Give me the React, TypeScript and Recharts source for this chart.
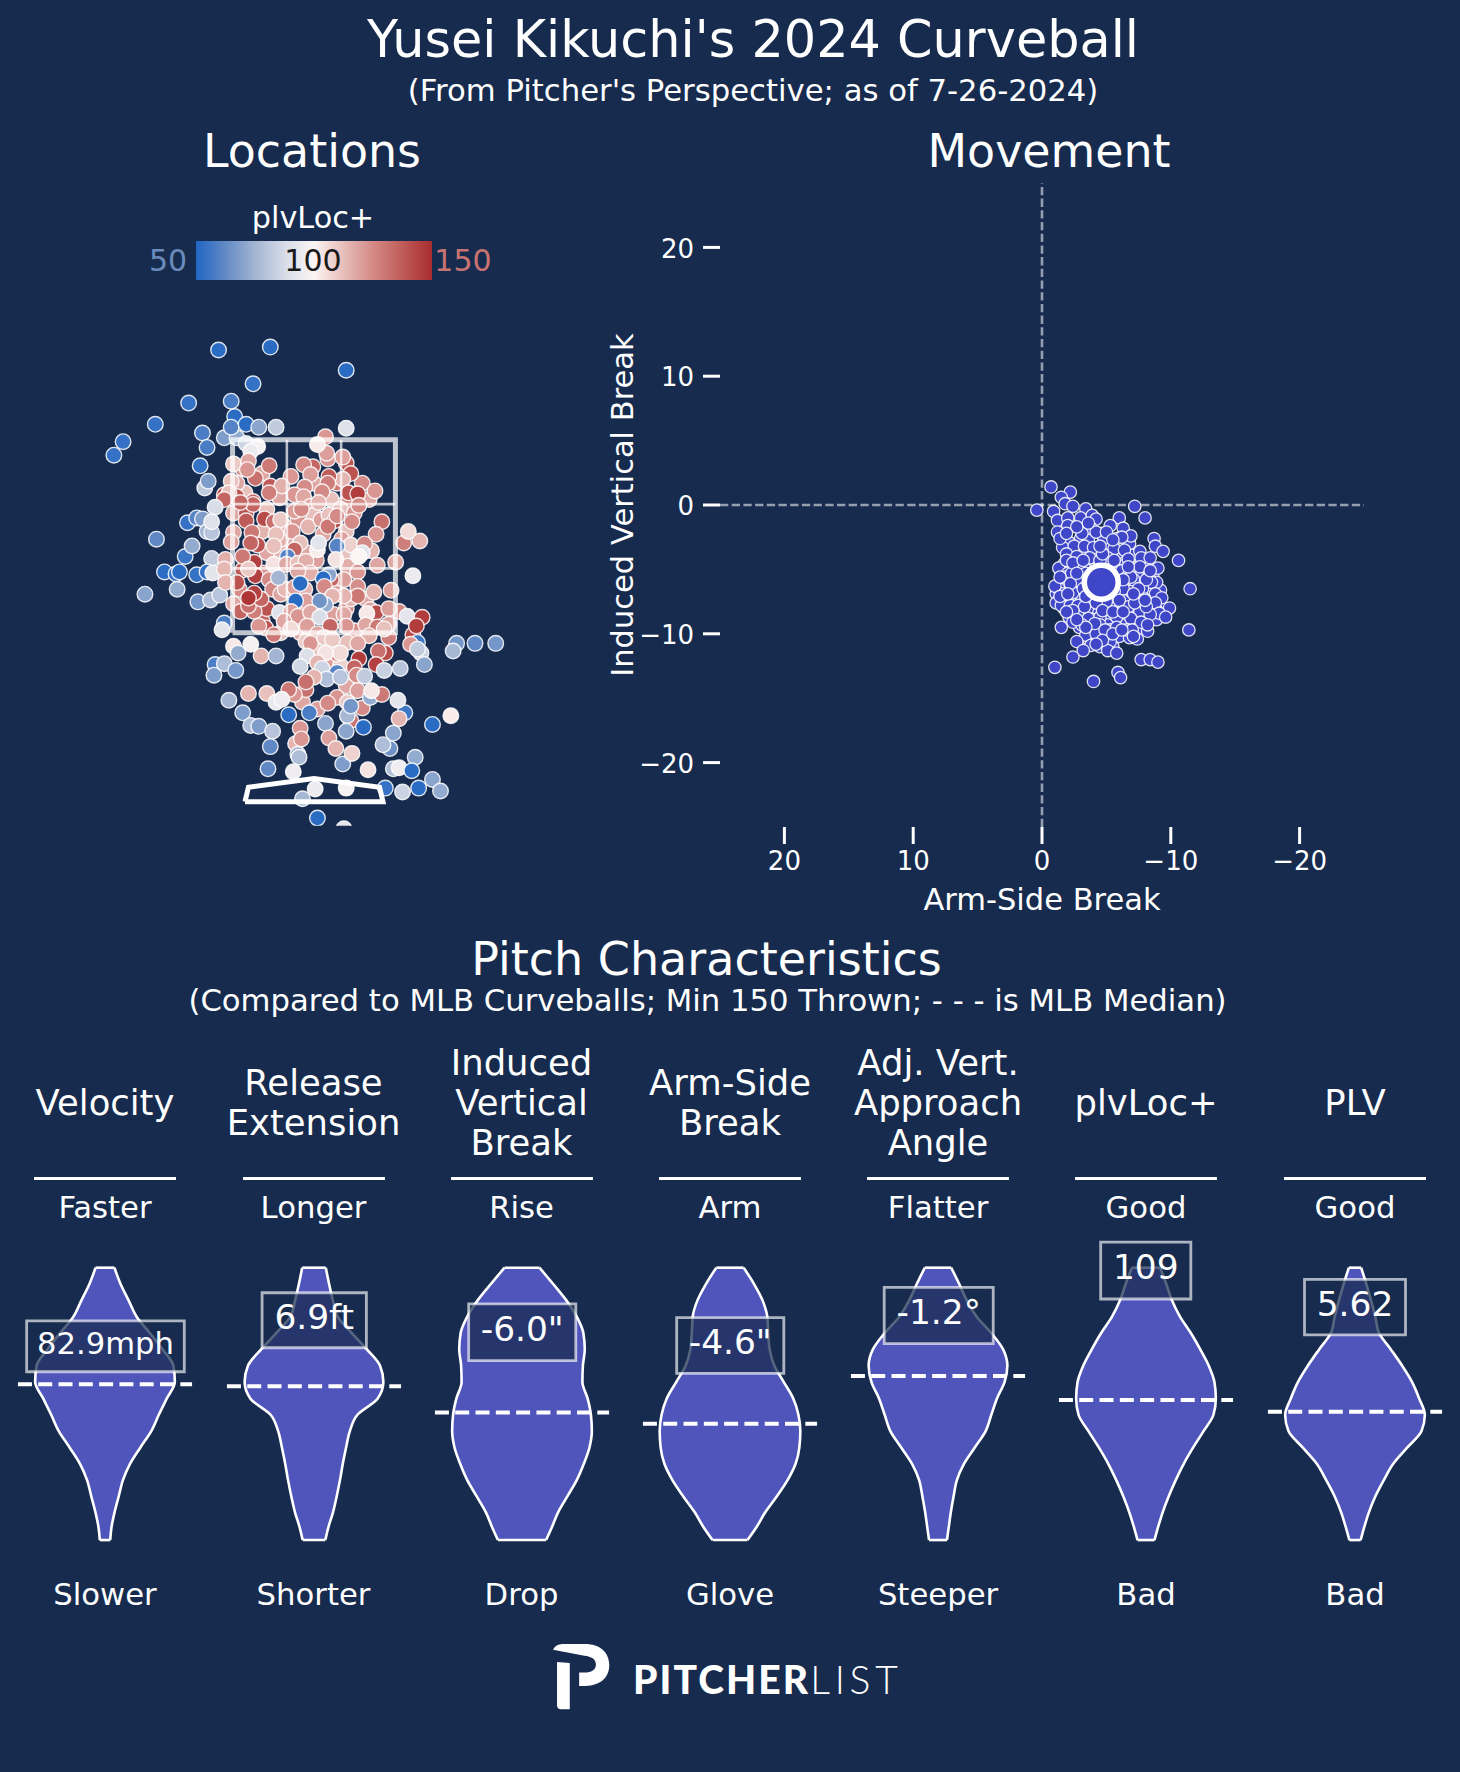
import {
  Area,
  ComposedChart,
  ReferenceArea,
  ReferenceLine,
  Scatter,
  ScatterChart,
  XAxis,
  YAxis,
} from "recharts";

const BG = "#162B4E";
const FONT = "'DejaVu Sans', sans-serif";
const VIOLIN = "#4F55BB";

// pitches buried under the rest of the cloud, drawn first
const locationPitchesUnder: number[][] = [
  [-0.62, 3.2, 125], [-0.45, 3.15, 118], [-0.2, 3.12, 122], [0, 3.05, 118], [0.2, 3.05, 130], [0.42, 3.05, 125],
  [-0.6, 2.95, 112], [-0.3, 2.9, 118], [0.15, 2.88, 112], [0.28, 2.85, 125], [0.48, 2.88, 118], [-0.45, 2.55, 115],
  [-0.2, 2.42, 118], [0.08, 2.52, 118], [0.28, 2.55, 112], [0.5, 2.35, 115], [-0.62, 2.15, 138], [-0.45, 2.12, 122],
  [-0.3, 2.35, 115], [0.02, 2.25, 120], [0.25, 2.3, 112], [0.55, 2.2, 118], [-0.65, 1.95, 125], [-0.45, 1.62, 135],
  [-0.08, 1.95, 115], [0.28, 1.75, 125], [0.45, 1.85, 118], [0.65, 1.45, 128], [-0.12, 1.5, 118], [0.35, 1.52, 125],
  [0, 1.33, 112], [0.12, 1.2, 120], [0.28, 0.95, 118], [0.42, 0.72, 125], [-0.1, 0.78, 118],
];

// [plate_x ft, plate_z ft, plvLoc+]
const locationPitches: number[][] = [
  [-0.83, 4.43, 52], [-0.38, 4.46, 52], [0.28, 4.22, 52], [-0.53, 4.08, 54], [-1.09, 3.88, 54], [-0.69, 3.74, 52],
  [-0.72, 3.9, 58], [-1.38, 3.66, 54], [-1.66, 3.48, 54], [-1.74, 3.34, 54], [-0.97, 3.57, 58], [-0.93, 3.42, 58],
  [-0.99, 3.23, 54], [-0.95, 3.0, 82], [-0.92, 3.07, 68], [-0.78, 3.52, 68], [-0.67, 3.52, 72], [-0.72, 3.63, 60],
  [-0.59, 3.66, 52], [-0.48, 3.63, 70], [-0.33, 3.63, 82], [0.28, 3.62, 90], [-0.59, 3.46, 85], [-0.49, 3.43, 98],
  [-0.55, 3.38, 95], [0.1, 3.53, 122], [0.12, 3.3, 122], [0.11, 3.36, 120], [0.03, 3.45, 102], [0.28, 3.26, 140],
  [0.25, 3.32, 120], [0.32, 3.15, 140], [0.25, 3.09, 115], [-0.7, 3.25, 110], [-0.57, 3.28, 118], [-0.51, 3.1, 132],
  [-0.58, 3.19, 122], [-0.39, 3.23, 130], [-0.01, 3.22, 135], [-0.09, 3.24, 125], [-0.03, 3.14, 120], [0.13, 3.12, 138],
  [0.12, 3.05, 128], [-0.67, 3.05, 118], [-0.72, 3.07, 112], [-0.38, 3.02, 138], [-0.28, 3.02, 116], [-0.39, 2.95, 128],
  [-0.08, 3.01, 125], [-0.17, 2.93, 122], [0.07, 2.96, 125], [0.3, 2.95, 140], [0.38, 2.94, 146], [0.53, 2.97, 122],
  [-0.78, 2.93, 140], [-0.67, 2.91, 140], [-0.74, 2.95, 112], [-0.53, 2.86, 135], [-0.09, 2.91, 118],
  [-0.78, 2.88, 135], [-0.86, 2.8, 88], [-1.1, 2.64, 54], [-1.02, 2.69, 60], [-0.97, 2.68, 68], [-0.93, 2.55, 75],
  [-0.89, 2.54, 80], [-0.89, 2.65, 90], [-1.37, 2.47, 62], [-1.12, 2.29, 55], [-1.06, 2.4, 72], [-0.89, 2.27, 82],
  [-1.3, 2.13, 52], [-1.2, 2.11, 55], [-1.17, 2.13, 52], [-1.02, 2.1, 54], [-0.93, 2.13, 54], [-0.88, 2.12, 92],
  [-1.19, 1.95, 72], [-1.47, 1.9, 70], [-1.01, 1.82, 66], [-0.9, 1.84, 78], [-0.82, 1.89, 80], [-0.78, 1.6, 58],
  [-0.8, 1.53, 92], [-0.7, 1.36, 103], [-0.55, 1.38, 98], [-0.66, 1.29, 72], [-0.46, 1.26, 115], [-0.33, 1.26, 75],
  [-0.86, 1.17, 58], [-0.78, 1.18, 78], [-0.68, 1.11, 66], [-0.87, 1.06, 68],
  [-0.03, 2.81, 118], [0.23, 2.78, 112], [0, 2.72, 112], [-0.41, 2.78, 112], [-0.14, 2.67, 122], [-0.26, 2.6, 115],
  [-0.06, 2.33, 118], [0.29, 2.19, 116], [0.26, 2.05, 120], [0.49, 1.74, 120], [-0.29, 1.5, 112], [-0.12, 1.74, 125],
  [0.17, 1.69, 120], [0.29, 1.4, 112], [0.23, 1.16, 108], [-0.29, 2.47, 116], [-0.41, 2.33, 118], [0.12, 1.5, 112],
  [-0.7, 2.74, 118], [-0.59, 2.74, 140], [-0.53, 2.83, 135], [-0.64, 2.85, 135], [-0.43, 2.68, 142], [-0.59, 2.66, 138],
  [-0.35, 2.65, 132], [-0.7, 2.54, 118], [-0.54, 2.54, 130], [-0.72, 2.44, 120], [-0.49, 2.41, 140], [-0.55, 2.43, 135],
  [-0.52, 2.23, 145], [-0.62, 2.29, 130], [-0.51, 2.09, 145], [-0.57, 2.16, 110], [-0.67, 2.02, 140], [-0.77, 2.26, 116],
  [-0.78, 2.16, 114], [-0.77, 2.02, 115], [-0.33, 2.52, 112], [-0.35, 2.4, 112], [-0.29, 2.67, 110], [-0.19, 2.55, 122],
  [-0.12, 2.43, 112], [-0.05, 2.6, 115], [0.06, 2.67, 120], [-0.17, 2.76, 120], [-0.11, 2.78, 125], [0.04, 2.85, 115],
  [0.13, 2.72, 112], [0.18, 2.66, 145], [0.12, 2.6, 130], [0.2, 2.71, 125], [0.35, 2.74, 122], [0.33, 2.65, 125],
  [0.39, 2.82, 125], [0.59, 2.65, 132], [0.54, 2.52, 122], [0.24, 2.47, 120], [0.32, 2.41, 108], [0.44, 2.42, 125],
  [0.2, 2.4, 60], [0.03, 2.36, 102], [0.04, 2.43, 92], [0.19, 2.26, 104], [0.42, 2.33, 92], [0.39, 2.29, 100],
  [0.78, 2.43, 128], [0.82, 2.55, 106], [0.92, 2.45, 115], [0.71, 2.23, 118], [0.86, 2.09, 95], [-0.17, 2.36, 135],
  [-0.23, 2.29, 60], [-0.35, 2.21, 104], [-0.24, 2.21, 118], [-0.14, 2.22, 112], [-0.07, 2.24, 116], [-0.03, 2.12, 116],
  [-0.14, 2.14, 118], [0.15, 2.05, 135], [0.13, 2.1, 70], [0.08, 2.06, 52], [0.09, 1.98, 125], [-0.39, 2.05, 125],
  [-0.36, 1.95, 125], [-0.29, 1.9, 118], [-0.25, 1.95, 114], [-0.17, 1.97, 120], [-0.12, 2.01, 52], [-0.31, 2.07, 75],
  [0.2, 1.91, 118], [0.38, 2.13, 122], [0.38, 1.98, 124], [0.32, 1.85, 115], [0.52, 1.92, 115], [0.38, 1.88, 130],
  [0.67, 1.94, 120], [0.26, 1.88, 115], [0.16, 1.88, 115], [-0.07, 1.83, 120], [0.1, 1.79, 72], [0.05, 1.83, 65],
  [-0.16, 1.83, 52], [-0.7, 1.8, 118], [-0.64, 1.72, 135], [-0.41, 1.75, 140], [-0.52, 1.72, 128], [-0.57, 1.78, 132],
  [-0.46, 1.85, 135], [-0.52, 1.91, 145], [-0.57, 1.86, 148], [-0.3, 1.71, 90], [-0.2, 1.72, 120], [-0.14, 1.67, 122],
  [-0.26, 1.62, 118], [-0.03, 1.71, 118], [0.05, 1.66, 88], [0.26, 1.69, 118], [0.54, 1.71, 142], [0.46, 1.7, 103],
  [0.74, 1.72, 125], [0.65, 1.75, 120], [0.81, 1.67, 92], [0.94, 1.66, 146], [0.86, 1.48, 142], [0.89, 1.57, 146],
  [0.9, 1.4, 56], [0.84, 1.38, 122], [0.93, 1.29, 84], [0.9, 1.33, 82], [0.96, 1.17, 70], [-0.42, 1.55, 140],
  [-0.48, 1.57, 122], [-0.35, 1.48, 130], [-0.2, 1.54, 106], [0.14, 1.57, 135], [-0.06, 1.57, 120], [0.28, 1.57, 122],
  [0.45, 1.58, 118], [0.65, 1.59, 118], [0.55, 1.56, 130], [0.61, 1.54, 112], [0.03, 1.49, 118], [0.48, 1.47, 116],
  [0.38, 1.39, 118], [-0.07, 1.41, 110], [-0.03, 1.39, 122], [0.09, 1.45, 110], [0.16, 1.43, 110], [0.2, 1.28, 125],
  [0.23, 1.29, 106], [0.1, 1.29, 104], [0.62, 1.29, 142], [0.56, 1.31, 132], [0.54, 1.17, 145], [0.39, 1.23, 146],
  [0.35, 1.14, 135], [-0.06, 1.26, 90], [0.03, 1.19, 115], [-0.12, 1.15, 86], [0.07, 1.13, 85], [0.2, 1.09, 60],
  [0.37, 1.06, 125], [0.44, 1.05, 82], [0.61, 1.11, 84], [0.75, 1.13, 80], [0.11, 1.02, 78], [0.23, 1.04, 80],
  [0, 1.04, 115], [-0.07, 0.91, 132], [-0.07, 0.99, 132], [-0.17, 0.86, 122], [-0.22, 0.91, 130], [-0.57, 0.87, 115],
  [-0.41, 0.87, 112], [-0.33, 0.78, 94], [-0.28, 0.81, 96], [-0.74, 0.8, 75], [0.38, 0.9, 120], [0.49, 0.83, 72],
  [0.59, 0.86, 130], [0.5, 0.9, 103], [0.79, 0.67, 56], [0.73, 0.8, 92], [0.74, 0.61, 115], [0.03, 0.71, 120],
  [0.2, 0.83, 122], [0.12, 0.77, 125], [0.32, 0.59, 132], [0.29, 0.64, 76], [0.29, 0.78, 110], [0.32, 0.74, 66],
  [0.43, 0.52, 52], [0.28, 0.48, 70], [-0.04, 0.67, 58], [-0.22, 0.65, 52], [-0.62, 0.67, 68], [-0.55, 0.54, 78],
  [-0.48, 0.53, 68], [-0.36, 0.48, 80], [-0.38, 0.32, 62], [-0.16, 0.35, 115], [-0.12, 0.51, 122], [-0.11, 0.4, 122],
  [0.1, 0.56, 70], [0.13, 0.41, 120], [0.19, 0.3, 115], [-0.14, 0.24, 75], [-0.13, 0.21, 78], [0.25, 0.14, 68],
  [0.33, 0.25, 108], [0.66, 0.3, 65], [0.69, 0.46, 70], [0.6, 0.34, 78], [1.03, 0.55, 52], [1.19, 0.64, 102],
  [0.88, 0.21, 72], [-0.4, 0.09, 62], [-0.18, 0.06, 96], [0.47, 0.08, 104], [0.69, 0.09, 78], [0.74, 0.1, 96],
  [0.85, 0.07, 52], [1.03, -0.02, 70], [0.62, -0.11, 54], [0.91, -0.11, 52], [0.77, -0.15, 85], [1.1, -0.14, 72],
  [0.01, -0.12, 95], [0.28, -0.11, 98], [-0.1, -0.22, 76], [0.03, -0.42, 52], [0.26, -0.53, 92],
  [1.24, 1.39, 66], [1.21, 1.31, 76], [1.4, 1.39, 62], [1.58, 1.39, 66],
];

const zoneOutline = [[-0.708, 1.5], [0.708, 1.5], [0.708, 3.5], [-0.708, 3.5], [-0.708, 1.5]];
const zoneInnerLines = [
  [[-0.236, 1.5], [-0.236, 3.5]],
  [[0.236, 1.5], [0.236, 3.5]],
  [[-0.708, 2.167], [0.708, 2.167]],
  [[-0.708, 2.833], [0.708, 2.833]],
];
const homePlate = [[-0.6, -0.25], [0.6, -0.25], [0.57, -0.1], [0, -0.01], [-0.57, -0.1], [-0.6, -0.25]];

// [arm-side break in, induced vertical break in]
const movementPitchesUnder: number[][] = [
  [-3.0, -2.6], [-3.6, -2.7], [-2.1, -2.9], [-1.6, -3.3], [-4.6, -2.2], [-5.2, -3.0], [-6.8, -3.0], [-2.6, -3.8],
  [-3.2, -3.7], [-4.4, -3.7], [-5.9, -3.7], [-7.0, -3.9], [-1.7, -4.6], [-3.6, -4.7], [-4.2, -4.6], [-5.0, -4.7],
  [-5.7, -4.9], [-6.5, -4.6], [-7.9, -4.6], [-2.6, -4.9], [-1.5, -5.3], [-2.2, -5.6], [-3.1, -5.6], [-3.8, -5.0],
  [-5.8, -5.3], [-7.0, -5.2], [-7.9, -5.5], [-8.6, -5.5], [-1.7, -6.2], [-2.5, -6.4], [-3.6, -6.0], [-6.6, -6.2],
  [-7.2, -6.3], [-8.2, -6.3], [-9.0, -6.5], [-1.1, -6.9], [-2.9, -6.8], [-3.9, -6.9], [-4.6, -7.0], [-5.2, -7.0],
  [-6.0, -6.5], [-6.5, -7.1], [-7.6, -7.0], [-8.4, -6.9], [-9.2, -6.6], [-1.3, -7.4], [-1.9, -7.3], [-2.5, -7.3],
  [-3.1, -7.3], [-4.2, -7.2], [-6.6, -7.4], [-7.4, -7.2], [-8.4, -7.5], [-9.2, -7.8], [-1.7, -8.0], [-3.0, -8.2],
  [-3.7, -8.3], [-4.4, -8.4], [-5.0, -8.0], [-6.0, -7.9], [-7.0, -8.2], [-8.0, -8.1], [-8.9, -8.2], [-2.1, -8.7],
  [-3.3, -8.9], [-4.0, -8.9], [-5.2, -8.8], [-6.4, -8.9], [-7.3, -8.7], [-8.0, -8.8], [-8.9, -8.9], [-2.9, -9.5],
  [-3.8, -9.6], [-5.1, -9.3], [-6.2, -9.3], [-7.6, -9.6], [-4.4, -10.0], [-5.0, -10.3], [-6.0, -10.2], [-6.8, -10.3],
  [-3.6, -10.4], [-4.5, -11.0], [-5.5, -11.0], [-4.0, -5.0], [-4.9, -5.0], [-3.3, -4.9],
];
const movementPitches: number[][] = [
  [-0.7, 1.4], [-2.2, 1.0], [-1.5, 0.6], [-1.8, 0.1], [-2.4, -0.1], [0.4, -0.4], [-0.9, -0.5], [-3.4, -0.3],
  [-7.2, -0.1], [-8.0, -1.0], [-1.2, -1.2], [-2.0, -1.0], [-2.0, -1.6], [-3.0, -1.0], [-3.9, -0.8], [-4.2, -1.1],
  [-6.0, -1.0], [-5.3, -1.6], [-3.8, -1.8], [-6.3, -1.8], [-3.1, -2.2], [-1.2, -2.1], [-6.9, -2.4], [-8.7, -2.6],
  [-1.4, -2.6], [-4.8, -2.6], [-5.8, -2.6], [-6.2, -2.5], [-2.5, -3.2], [-3.3, -3.2], [-4.0, -3.3], [-1.9, -3.8],
  [-5.6, -3.4], [-6.4, -3.5], [-7.6, -3.6], [-8.8, -3.2], [-9.4, -3.6], [-10.6, -4.3], [-3.7, -4.1], [-5.1, -4.1],
  [-6.7, -4.2], [-7.7, -4.1], [-8.4, -4.1], [-2.9, -4.7], [-1.3, -4.9], [-2.0, -5.3], [-6.2, -5.1], [-7.2, -4.9],
  [-9.0, -4.9], [-8.1, -5.2], [-1.8, -5.6], [-2.9, -5.9], [-7.5, -5.6], [-8.9, -6.0], [-6.6, -5.6], [-8.5, -6.0],
  [-7.8, -6.5], [-11.5, -6.5], [-1.3, -6.5], [-1.6, -6.9], [-2.4, -6.8], [-6.9, -6.7], [-6.3, -6.5], [-8.8, -6.9],
  [-8.0, -7.3], [-9.3, -7.2], [-1.1, -7.6], [-1.5, -7.8], [-2.2, -7.8], [-2.8, -7.8], [-3.6, -7.3], [-5.5, -7.7],
  [-6.7, -7.9], [-8.8, -7.6], [-9.9, -8.0], [-9.1, -8.4], [-9.6, -8.7], [-7.6, -8.3], [-8.4, -8.5], [-2.9, -8.7],
  [-3.6, -8.8], [-4.5, -8.7], [-5.8, -8.7], [-6.9, -8.8], [-7.7, -9.1], [-2.4, -9.1], [-1.5, -9.5], [-3.1, -9.3],
  [-4.5, -9.3], [-5.3, -9.7], [-6.6, -9.7], [-7.0, -9.7], [-8.2, -9.8], [-8.2, -9.3], [-11.4, -9.7], [-3.4, -10.1],
  [-4.2, -10.0], [-5.3, -10.6], [-7.4, -10.4], [-2.7, -10.6], [-3.8, -10.9], [-3.2, -11.3], [-5.1, -11.3], [-5.8, -11.5],
  [-2.4, -11.8], [-1.0, -12.6], [-7.7, -12.0], [-8.4, -12.0], [-9.0, -12.2], [-5.9, -13.0], [-6.1, -13.4], [-4.0, -13.7],
  [-2.7, -4.0], [-4.5, -4.3], [-5.6, -4.3], [-2.3, -5.3], [-3.4, -5.3], [-4.7, -3.8], [-7.1, -5.8], [-8.1, -5.8],
  [-2.2, -6.1], [-3.2, -6.5], [-1.0, -6.3], [-1.9, -4.3], [-2.4, -4.5], [-1.4, -5.6], [-2.7, -5.3], [-6.9, -5.6],
  [-7.5, -6.5], [-5.6, -6.7], [-6.0, -7.4], [-5.0, -7.5], [-4.2, -7.6], [-3.3, -7.9], [-2.4, -8.2], [-1.9, -8.3],
  [-4.7, -8.2], [-5.5, -8.3], [-6.3, -8.3], [-7.2, -7.6], [-8.1, -7.9], [-4.1, -9.2], [-4.9, -9.7], [-5.8, -9.5],
  [-3.4, -9.5], [-4.7, -10.5], [-4.2, -10.8], [-5.5, -10.0], [-2.7, -8.9], [-6.2, -9.7], [-7.1, -10.2], [-4.5, -3.2],
  [-2.7, -1.7], [-4.2, -2.1], [-3.6, -1.4], [-5.0, -2.1], [-1.9, -2.2], [-5.5, -2.7], [-7.6, -4.8], [-8.4, -5.1],
  [-6.7, -4.8], [-8.0, -7.4], [-3.2, -4.3], [-1.4, -7.1], [-3.4, -7.1], [-7.1, -6.9], [-6.3, -5.8], [-2.0, -6.9],
];
const movementMean = [{ x: -4.6, y: -6.0 }];
const movementTicks = [-20, -10, 0, 10, 20];

const plvStops = [50, 62, 75, 88, 100, 112, 125, 138, 150];
const plvColors = ["#1F66C4", "#6088C4", "#A3B5D3", "#D8DDE8", "#FBF5F4", "#E8C0BC", "#D48A86", "#BE5A58", "#A92D2E"];

// rungs of every violin, as a percent of that metric's plotted range
const violinLevels = [0, 5, 10, 16, 22, 28, 34, 40, 46, 52, 58, 64, 70, 76, 82, 88, 94, 100];

const metricNames = [
  ["Velocity"],
  ["Release", "Extension"],
  ["Induced", "Vertical", "Break"],
  ["Arm-Side", "Break"],
  ["Adj. Vert.", "Approach", "Angle"],
  ["plvLoc+"],
  ["PLV"],
];
const metricHigh = ["Faster", "Longer", "Rise", "Arm", "Flatter", "Good", "Good"];
const metricLow = ["Slower", "Shorter", "Drop", "Glove", "Steeper", "Bad", "Bad"];
const metricValues = ["82.9mph", "6.9ft", '-6.0"', '-4.6"', "-1.2°", "109", "5.62"];
const metricMedians = [57.2, 56.5, 46.8, 42.7, 60.2, 51.4, 47.1];
const metricDensity = [
  [11, 14, 20, 29, 38, 53, 75, 98, 114, 131, 148, 145, 122, 95, 67, 50, 33, 20],
  [24, 31, 40, 48, 55, 61, 68, 76, 92, 135, 147, 140, 112, 80, 50, 40, 32, 25],
  [51, 64, 76, 96, 116, 131, 143, 148, 146, 139, 128, 129, 133, 130, 116, 94, 66, 37],
  [37, 57, 74, 99, 122, 139, 147, 149, 145, 134, 114, 94, 84, 81, 79, 69, 51, 29],
  [19, 23, 27, 33, 40, 55, 78, 101, 113, 125, 141, 147, 138, 113, 82, 61, 45, 28],
  [18, 26, 35, 48, 63, 80, 100, 122, 143, 148, 145, 133, 115, 95, 72, 55, 43, 30],
  [12, 20, 29, 43, 61, 81, 111, 141, 148, 136, 121, 100, 76, 51, 43, 34, 24, 13],
];
// value box [left, right, bottom, top] in violin units
const metricBoxes = [
  [-166, 168, 61.8, 80.5],
  [-110, 111, 70.6, 90.8],
  [-113, 114, 65.9, 86.7],
  [-113, 114, 61.2, 81.7],
  [-114, 117, 72.1, 92.8],
  [-96, 95, 88.5, 109.4],
  [-107, 107, 75.3, 95.7],
];
const metricFontSizes = [30.6, 34.4, 34.4, 34.4, 34.4, 34.4, 34.4];
const metricCenters = [105, 313.5, 521.5, 730, 938, 1146, 1355];

const toPlvColor = (score: number) => {
  const s = Math.min(150, Math.max(50, score));
  let i = 0;
  while (i < plvStops.length - 2 && s > plvStops[i + 1]) i++;
  const t = (s - plvStops[i]) / (plvStops[i + 1] - plvStops[i]);
  const a = plvColors[i];
  const b = plvColors[i + 1];
  const mix = (k: number) =>
    Math.round(parseInt(a.slice(k, k + 2), 16) * (1 - t) + parseInt(b.slice(k, k + 2), 16) * t);
  return `rgb(${mix(1)},${mix(3)},${mix(5)})`;
};

const Label = ({ x, y, size, color = "#fff", children }: any) => (
  <div
    style={{
      position: "absolute",
      left: x,
      top: y,
      transform: "translate(-50%,-50%)",
      fontFamily: FONT,
      fontSize: size,
      color,
      whiteSpace: "nowrap",
      textAlign: "center",
      lineHeight: "40px",
    }}
  >
    {children}
  </div>
);

const noDot = () => <g />;
const pairs = (list: number[][]) => list.map(([x, y]) => ({ x, y }));

const LocationDot = (props: any) => (
  <circle
    cx={props.cx}
    cy={props.cy}
    r={7.8}
    fill={toPlvColor(props.payload.score)}
    stroke="#fff"
    strokeOpacity={0.85}
    strokeWidth={1.4}
  />
);

function LocationsChart() {
  const data = [...locationPitchesUnder, ...locationPitches].map(([x, y, score]) => ({ x, y, score }));
  return (
    <div style={{ position: "absolute", left: 83.5, top: 295.25 }}>
      <ScatterChart width={460} height={530.75} margin={{ top: 0, right: 0, bottom: 0, left: 0 }}>
        <XAxis type="number" dataKey="x" domain={[-2, 2]} hide allowDataOverflow />
        <YAxis type="number" dataKey="y" domain={[-0.5, 5]} hide allowDataOverflow />
        <Scatter data={data} shape={LocationDot} isAnimationActive={false} />
        {zoneInnerLines.map((segment, i) => (
          <Scatter
            key={i}
            data={pairs(segment)}
            shape={noDot}
            line={{ stroke: "#fff", strokeOpacity: 0.7, strokeWidth: 2.6 }}
            isAnimationActive={false}
          />
        ))}
        <Scatter
          data={pairs(zoneOutline)}
          shape={noDot}
          line={{ stroke: "#fff", strokeOpacity: 0.72, strokeWidth: 5 }}
          isAnimationActive={false}
        />
        <Scatter
          data={pairs(homePlate)}
          shape={noDot}
          line={{ stroke: "#fff", strokeWidth: 5, strokeLinejoin: "miter" }}
          isAnimationActive={false}
        />
      </ScatterChart>
    </div>
  );
}

const MovementDot = (props: any) => (
  <circle cx={props.cx} cy={props.cy} r={6.2} fill="#3F47C8" stroke="#fff" strokeOpacity={0.85} strokeWidth={1.3} />
);
const MeanDot = (props: any) => (
  <circle cx={props.cx} cy={props.cy} r={17} fill="#3F47C8" stroke="#fff" strokeWidth={5.5} />
);
const formatBreak = (value: number) => String(value).replace("-", "\u2212");

function MovementChart() {
  const tick = { fill: "#fff", fontSize: 26, fontFamily: FONT };
  return (
    <div style={{ position: "absolute", left: 450, top: 170 }}>
      <ScatterChart width={930} height={760} margin={{ top: 13, right: 16, bottom: 3, left: 0 }}>
        <XAxis
          type="number"
          dataKey="x"
          domain={[-25, 25]}
          reversed
          ticks={movementTicks}
          tickFormatter={formatBreak}
          tick={tick}
          tickSize={17}
          tickMargin={8}
          tickLine={{ stroke: "#fff", strokeWidth: 3 }}
          axisLine={false}
          height={100}
          label={{ value: "Arm-Side Break", position: "insideBottom", offset: 17, fill: "#fff", fontSize: 30.5, fontFamily: FONT }}
        />
        <YAxis
          type="number"
          dataKey="y"
          domain={[-25, 25]}
          ticks={movementTicks}
          tickFormatter={formatBreak}
          tick={{ ...tick, dy: 1 }}
          tickSize={17}
          tickMargin={9}
          tickLine={{ stroke: "#fff", strokeWidth: 3 }}
          axisLine={false}
          width={270}
          label={{ value: "Induced Vertical Break", angle: -90, position: "insideLeft", offset: 172, fill: "#fff", fontSize: 30.5, fontFamily: FONT, style: { textAnchor: "middle" } }}
        />
        <ReferenceLine x={0} stroke="#fff" strokeOpacity={0.55} strokeWidth={2.6} strokeDasharray="8.3 3.4" />
        <ReferenceLine y={0} stroke="#fff" strokeOpacity={0.55} strokeWidth={2.6} strokeDasharray="8.3 3.4" />
        <Scatter data={pairs([...movementPitchesUnder, ...movementPitches])} shape={MovementDot} isAnimationActive={false} />
        <Scatter data={movementMean} shape={MeanDot} isAnimationActive={false} />
      </ScatterChart>
    </div>
  );
}

function Violin({ index }: { index: number }) {
  const density = metricDensity[index];
  const rows = violinLevels.map((level, i) => ({ level, range: [-density[i], density[i]] }));
  const [x1, x2, y1, y2] = metricBoxes[index];
  const edgeTop = density[density.length - 1];
  const edgeBottom = density[0];
  return (
    <div style={{ position: "absolute", left: metricCenters[index] - 90, top: 1235 }}>
      <ComposedChart
        layout="vertical"
        width={180}
        height={310.5}
        data={rows}
        margin={{ top: 0, right: 0, bottom: 0, left: 0 }}
      >
        <XAxis type="number" domain={[-190.7, 190.7]} hide />
        <YAxis type="number" dataKey="level" domain={[-2, 112]} reversed hide />
        <Area
          dataKey="range"
          type="monotone"
          fill={VIOLIN}
          fillOpacity={1}
          stroke="#fff"
          strokeWidth={2.6}
          dot={false}
          activeDot={false}
          isAnimationActive={false}
        />
        {/* flat ends of the violin, kept under the value box */}
        <ReferenceArea x1={-edgeTop} x2={edgeTop} y1={99.52} y2={100.48} fill="#fff" fillOpacity={1} ifOverflow="visible" />
        <ReferenceArea x1={-edgeBottom} x2={edgeBottom} y1={-0.48} y2={0.48} fill="#fff" fillOpacity={1} ifOverflow="visible" />
        <ReferenceArea
          x1={x1}
          x2={x2}
          y1={y1}
          y2={y2}
          fill={BG}
          fillOpacity={0.72}
          stroke="#fff"
          strokeOpacity={0.65}
          strokeWidth={2.8}
          ifOverflow="visible"
          label={{ value: metricValues[index], position: "center", dy: -3.4, fill: "#fff", fontSize: metricFontSizes[index], fontFamily: FONT }}
        />
        <ReferenceLine
          stroke="#fff"
          strokeWidth={4}
          strokeDasharray="14 6.3"
          segment={[{ x: -184.5, y: metricMedians[index] }, { x: 184.5, y: metricMedians[index] }]}
        />
      </ComposedChart>
    </div>
  );
}

function Logo() {
  return (
    <>
      <svg style={{ position: "absolute", left: 553, top: 1643 }} width={57} height={67} viewBox="100 40 170 200">
        <path
          fill="#fff"
          d="M100 60 Q108 44 128 43 L196 43 C240 43 268 68 268 106 C268 144 240 168 196 168 L178 168 L178 128 L194 128 C214 128 228 120 228 104 C228 88 214 80 194 78 Z M112 97 L150 100 L150 238 L124 238 Q112 238 112 226 Z"
        />
      </svg>
      <div
        style={{
          position: "absolute",
          left: 633,
          top: 1656,
          fontFamily: "Lato, sans-serif",
          fontSize: 39,
          lineHeight: "46px",
          color: "#fff",
          whiteSpace: "nowrap",
        }}
      >
        <span style={{ fontWeight: 900, letterSpacing: 2.1 }}>PITCHER</span>
        <span style={{ fontWeight: 300, letterSpacing: 4.7 }}>LIST</span>
      </div>
    </>
  );
}

export default function App() {
  const gradient = plvColors
    .map((color, i) => `${color} ${((plvStops[i] - 50) / 100) * 100}%`)
    .join(",");
  return (
    <div style={{ position: "relative", width: 1460, height: 1772, background: BG, overflow: "hidden" }}>
      <style>{`html,body{margin:0;padding:0;background:${BG}}`}</style>
      <Label x={753} y={40} size={50.9}>Yusei Kikuchi's 2024 Curveball</Label>
      <Label x={753} y={91} size={30.7}>(From Pitcher's Perspective; as of 7-26-2024)</Label>
      <Label x={312} y={151} size={45.9}>Locations</Label>
      <Label x={1049} y={151} size={45.9}>Movement</Label>
      <Label x={313} y={218} size={30.3}>plvLoc+</Label>
      <div
        style={{
          position: "absolute",
          left: 195.5,
          top: 240.5,
          width: 236,
          height: 39.5,
          background: `linear-gradient(to right,${gradient})`,
        }}
      />
      <Label x={168} y={261} size={30} color="#6A8BBB">50</Label>
      <Label x={313} y={261} size={30} color="#1a1a1a">100</Label>
      <Label x={463} y={261} size={30} color="#C87372">150</Label>
      <LocationsChart />
      <MovementChart />
      <Label x={706.5} y={959} size={46}>Pitch Characteristics</Label>
      <Label x={707.5} y={1000.5} size={30.7}>(Compared to MLB Curveballs; Min 150 Thrown; - - - is MLB Median)</Label>
      {metricCenters.map((center, i) => (
        <div key={center}>
          <Label x={center} y={1103} size={35.4}>
            {metricNames[i].map((line) => (
              <div key={line}>{line}</div>
            ))}
          </Label>
          <div style={{ position: "absolute", left: center - 71, top: 1177, width: 142, height: 3, background: "#fff" }} />
          <Label x={center} y={1207.5} size={30.7}>{metricHigh[i]}</Label>
          <Violin index={i} />
          <Label x={center} y={1595} size={30.7}>{metricLow[i]}</Label>
        </div>
      ))}
      <Logo />
    </div>
  );
}
